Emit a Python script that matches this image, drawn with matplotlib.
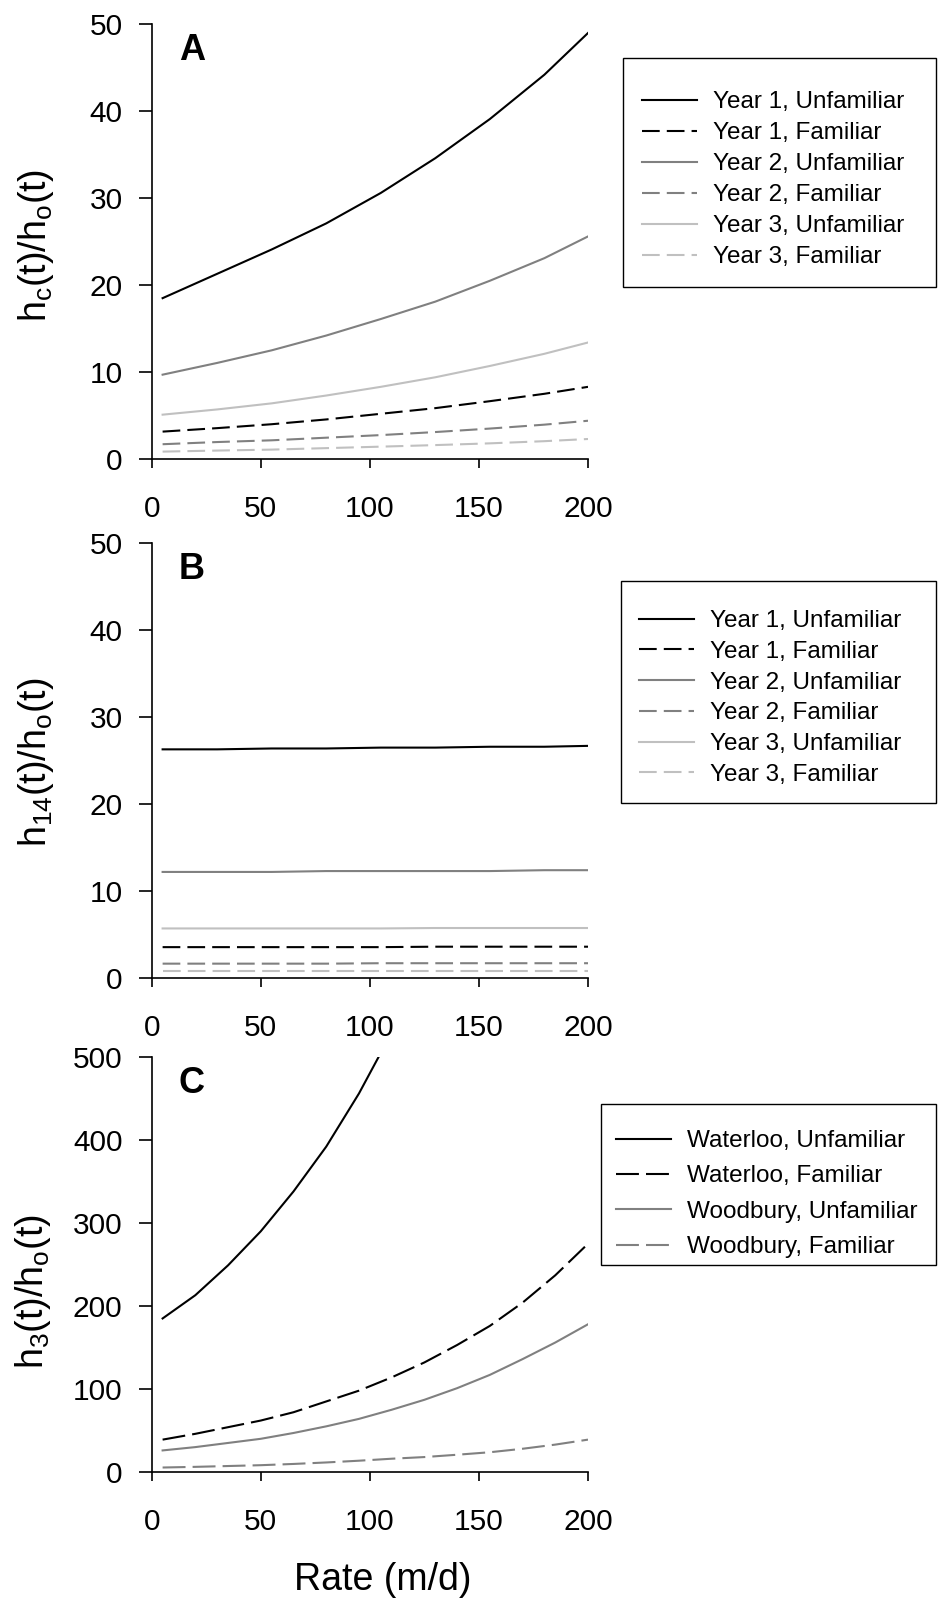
import matplotlib.pyplot as plt
from matplotlib.patches import Rectangle

plt.rcParams['font.family'] = ['Liberation Sans', 'DejaVu Sans']

# pumping rate (m/d) used in panels A and B
rate = [5, 30, 55, 80, 105, 130, 155, 180, 200]

# A: h_c(t)/h_o(t)
a_y1_unf = [18.5, 21.3, 24.1, 27.1, 30.6, 34.6, 39.1, 44.2, 49.0]
a_y1_fam = [3.15, 3.55, 4.0, 4.55, 5.2, 5.85, 6.65, 7.5, 8.3]
a_y2_unf = [9.7, 11.05, 12.5, 14.2, 16.1, 18.1, 20.5, 23.1, 25.6]
a_y2_fam = [1.7, 1.95, 2.15, 2.45, 2.75, 3.1, 3.5, 3.95, 4.4]
a_y3_unf = [5.1, 5.7, 6.4, 7.3, 8.3, 9.4, 10.7, 12.1, 13.4]
a_y3_fam = [0.85, 0.97, 1.08, 1.25, 1.42, 1.6, 1.8, 2.05, 2.3]

# B: h_14(t)/h_o(t)
b_y1_unf = [26.3, 26.3, 26.4, 26.4, 26.5, 26.5, 26.6, 26.6, 26.7]
b_y1_fam = [3.55, 3.55, 3.55, 3.55, 3.55, 3.6, 3.6, 3.6, 3.6]
b_y2_unf = [12.2, 12.2, 12.2, 12.3, 12.3, 12.3, 12.3, 12.4, 12.4]
b_y2_fam = [1.65, 1.65, 1.65, 1.65, 1.7, 1.7, 1.7, 1.7, 1.7]
b_y3_unf = [5.7, 5.7, 5.7, 5.7, 5.7, 5.75, 5.75, 5.75, 5.75]
b_y3_fam = [0.8, 0.8, 0.8, 0.8, 0.8, 0.8, 0.8, 0.8, 0.8]

# C: h_3(t)/h_o(t), finer rate steps
rate_c = [5, 20, 35, 50, 65, 80, 95, 110, 125, 140, 155, 170, 185, 200]
rate_wat_unf = [5, 20, 35, 50, 65, 80, 95, 104]
c_wat_unf = [185, 213, 249, 290, 338, 392, 456, 500]
c_wat_fam = [39, 46, 54, 62, 72, 85, 98, 114, 132, 153, 176, 204, 237, 275]
c_wood_unf = [26, 30, 35, 40, 47, 55, 64, 75, 87, 101, 117, 136, 156, 178]
c_wood_fam = [5.4, 6.2, 7.2, 8.2, 9.7, 11.5, 13.6, 16, 18, 20.8, 23.8, 28, 33, 39]

year_labels = ['Year 1, Unfamiliar', 'Year 1, Familiar', 'Year 2, Unfamiliar',
               'Year 2, Familiar', 'Year 3, Unfamiliar', 'Year 3, Familiar']
site_labels = ['Waterloo, Unfamiliar', 'Waterloo, Familiar',
               'Woodbury, Unfamiliar', 'Woodbury, Familiar']

BLACK, GRAY, LIGHT = '#000000', '#808080', '#c0c0c0'
LW = 1.5
DASH_AB = (0, (8.5, 3.4))
DASH_C = (0, (11, 3.4))

W, H = 938, 1604
fig = plt.figure(figsize=(W / 100, H / 100), dpi=100)


def add_axes_px(left, top, right, bottom):
    return fig.add_axes([left / W, 1 - bottom / H, (right - left) / W, (bottom - top) / H])


def style(ax, ymax, ystep):
    for s in ('top', 'right'):
        ax.spines[s].set_visible(False)
    for s in ('left', 'bottom'):
        ax.spines[s].set_linewidth(1.2)
    ax.set_xlim(0, 200)
    ax.set_ylim(0, ymax)
    ax.set_xticks(range(0, 201, 50))
    ax.set_yticks(range(0, ymax + 1, ystep))
    ax.tick_params(axis='y', direction='out', length=9.5, width=1.2, labelsize=21.5, pad=11.5)
    ax.tick_params(axis='x', direction='out', length=6.7, width=1.2, labelsize=21.5, pad=19)


def legend_box(ax, left, top, bottom, anchor_x, anchor_y, spacing):
    ax.legend(loc='upper left', bbox_to_anchor=(anchor_x / W, 1 - anchor_y / H),
              bbox_transform=fig.transFigure, frameon=False, fontsize=17.5,
              handlelength=2.26, handletextpad=0.67, labelspacing=spacing,
              borderpad=0, borderaxespad=0)
    fig.add_artist(Rectangle((left / W, 1 - bottom / H), (936 - left) / W, (bottom - top) / H,
                             transform=fig.transFigure, fill=False, lw=1.0, edgecolor='black'))


def letter(ax, s):
    ax.annotate(s, xy=(0, 1), xycoords='axes fraction', xytext=(27, -36),
                textcoords='offset pixels', fontsize=26, fontweight='bold',
                ha='left', va='baseline')


# panel A
axA = add_axes_px(151.7, 24.3, 588, 459)
axA.plot(rate, a_y1_unf, color=BLACK, lw=LW, label=year_labels[0])
axA.plot(rate, a_y1_fam, color=BLACK, lw=LW, ls=DASH_AB, label=year_labels[1])
axA.plot(rate, a_y2_unf, color=GRAY, lw=LW, label=year_labels[2])
axA.plot(rate, a_y2_fam, color=GRAY, lw=LW, ls=DASH_AB, label=year_labels[3])
axA.plot(rate, a_y3_unf, color=LIGHT, lw=LW, label=year_labels[4])
axA.plot(rate, a_y3_fam, color=LIGHT, lw=LW, ls=DASH_AB, label=year_labels[5])
style(axA, 50, 10)
letter(axA, 'A')
legend_box(axA, 622.7, 58, 287, 641.7, 91, 0.37)
fig.text(36 / W, 1 - 245 / H, r'$\mathregular{h_c(t)/h_o(t)}$', rotation=90,
         ha='center', va='center', fontsize=27)

# panel B
axB = add_axes_px(151.7, 543.3, 588, 978)
axB.plot(rate, b_y1_unf, color=BLACK, lw=LW, label=year_labels[0])
axB.plot(rate, b_y1_fam, color=BLACK, lw=LW, ls=DASH_AB, label=year_labels[1])
axB.plot(rate, b_y2_unf, color=GRAY, lw=LW, label=year_labels[2])
axB.plot(rate, b_y2_fam, color=GRAY, lw=LW, ls=DASH_AB, label=year_labels[3])
axB.plot(rate, b_y3_unf, color=LIGHT, lw=LW, label=year_labels[4])
axB.plot(rate, b_y3_fam, color=LIGHT, lw=LW, ls=DASH_AB, label=year_labels[5])
style(axB, 50, 10)
letter(axB, 'B')
legend_box(axB, 620.7, 581, 803, 639, 610, 0.36)
fig.text(36 / W, 1 - 762 / H, r'$\mathregular{h_{14}(t)/h_o(t)}$', rotation=90,
         ha='center', va='center', fontsize=27)

# panel C
axC = add_axes_px(151.7, 1057, 588, 1472)
axC.plot(rate_wat_unf, c_wat_unf, color=BLACK, lw=LW, label=site_labels[0])
axC.plot(rate_c, c_wat_fam, color=BLACK, lw=LW, ls=DASH_C, label=site_labels[1])
axC.plot(rate_c, c_wood_unf, color=GRAY, lw=LW, label=site_labels[2])
axC.plot(rate_c, c_wood_fam, color=GRAY, lw=LW, ls=DASH_C, label=site_labels[3])
style(axC, 500, 100)
letter(axC, 'C')
legend_box(axC, 600.7, 1104, 1265, 616, 1130, 0.55)
fig.text(33 / W, 1 - 1292 / H, r'$\mathregular{h_3(t)/h_o(t)}$', rotation=90,
         ha='center', va='center', fontsize=27)
fig.text(383 / W, 1 - 1580 / H, 'Rate (m/d)', ha='center', va='center', fontsize=27)

fig.savefig('out.png', dpi=100)
